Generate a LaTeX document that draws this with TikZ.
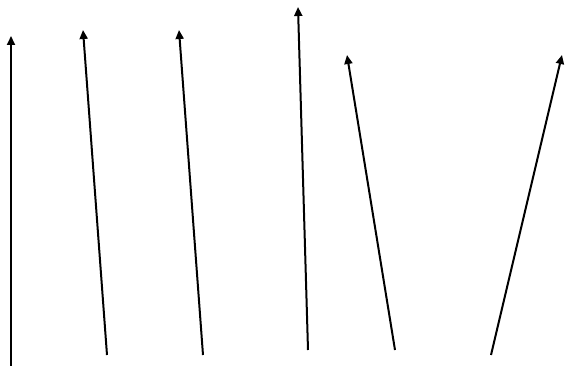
\documentclass[tikz,border=0pt]{standalone}
\usetikzlibrary{arrows.meta}
\begin{document}
\begin{tikzpicture}[x=1pt,y=-1pt,
  vec/.style={line width=2pt,-{Triangle[length=9pt,width=8pt]}}]
\useasboundingbox (0,0) rectangle (568,366);
\coordinate (a1) at (11,366); \coordinate (b1) at (11,36);
\coordinate (a2) at (107,355); \coordinate (b2) at (83,30);
\coordinate (a3) at (203,355); \coordinate (b3) at (179,30);
\coordinate (a4) at (308,350); \coordinate (b4) at (298,7);
\coordinate (a5) at (395,350); \coordinate (b5) at (347,55);
\coordinate (a6) at (491,355); \coordinate (b6) at (562,55);
\draw[vec] (a1) -- (b1);
\draw[vec] (a2) -- (b2);
\draw[vec] (a3) -- (b3);
\draw[vec] (a4) -- (b4);
\draw[vec] (a5) -- (b5);
\draw[vec] (a6) -- (b6);
\end{tikzpicture}
\end{document}
